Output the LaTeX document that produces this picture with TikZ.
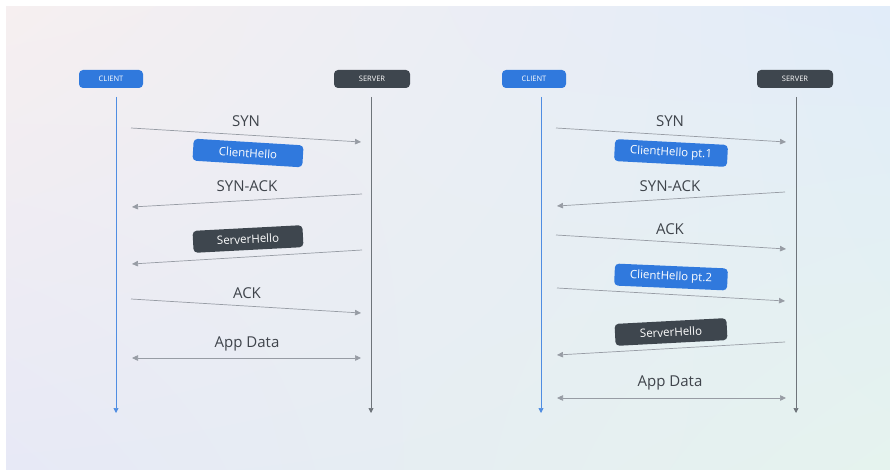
\documentclass[tikz,border=0pt]{standalone}
\usepackage{fontspec}
\setmainfont{Open Sans}
\usetikzlibrary{arrows.meta,shadings}
\definecolor{cblue}{HTML}{3079DD}
\definecolor{sdark}{HTML}{3E464E}
\definecolor{msg}{HTML}{979CA4}
\definecolor{txt}{HTML}{3F444B}
\definecolor{bgul}{HTML}{F6EFF0}
\definecolor{bgur}{HTML}{E1ECF9}
\definecolor{bgll}{HTML}{E7E9F6}
\definecolor{bglr}{HTML}{E5F3EE}
\tikzset{
  head/.style={rounded corners=4pt, minimum width=64pt, minimum height=18pt, inner sep=0pt,
    text=white, font=\fontsize{7.5}{8}\selectfont},
  chead/.style={head, fill=cblue},
  shead/.style={head, fill=sdark, minimum width=76pt},
  pill/.style={rounded corners=4pt, minimum width=110pt, minimum height=22pt, inner sep=0pt,
    text=white, font=\fontsize{11.5}{13}\selectfont},
  cpill/.style={pill, fill=cblue},
  spill/.style={pill, fill=sdark},
  lbl/.style={text=txt, font=\fontsize{15}{17}\selectfont},
  msgline/.style={draw=msg, line width=0.7pt, -{Triangle[length=6pt,width=5.5pt]}},
  bimsg/.style={draw=msg, line width=0.7pt, {Triangle[length=6pt,width=5.5pt]}-{Triangle[length=6pt,width=5.5pt]}},
  clife/.style={draw=cblue!85, line width=0.7pt, -{Triangle[length=5pt,width=5pt]}},
  slife/.style={draw=sdark!75, line width=0.7pt, -{Triangle[length=5pt,width=5pt]}},
}
\begin{document}
\begin{tikzpicture}[x=1pt,y=-1pt]
\useasboundingbox (0,0) rectangle (890,470);
\fill[white] (0,0) rectangle (890,470);
\shade[upper left=bgul, upper right=bgur, lower left=bgll, lower right=bglr]
  (6,7) rectangle (890,470);

% ---------- left diagram ----------
\node[chead] (c1) at (111,79) {CLIENT};
\node[shead] (s1) at (372,79) {SERVER};
\coordinate (c1top) at (116,97); \coordinate (c1bot) at (116,413);
\coordinate (s1top) at (371,97); \coordinate (s1bot) at (371,413);
\draw[clife] (c1top) -- (c1bot);
\draw[slife] (s1top) -- (s1bot);

\node[lbl] (l1syn) at (246,121) {SYN};
\coordinate (a1s) at (131,128); \coordinate (a1e) at (361,142);
\draw[msgline] (a1s) -- (a1e);
\node[cpill, rotate=-3.5] (l1ch) at (248,153) {ClientHello};

\node[lbl] (l1sa) at (247,186) {SYN-ACK};
\coordinate (a2s) at (362,194); \coordinate (a2e) at (132,207);
\draw[msgline] (a2s) -- (a2e);
\node[spill, rotate=3] (l1sh) at (248,239) {ServerHello};
\coordinate (a3s) at (362,250); \coordinate (a3e) at (132,264);
\draw[msgline] (a3s) -- (a3e);

\node[lbl] (l1ack) at (247,293) {ACK};
\coordinate (a4s) at (131,299); \coordinate (a4e) at (361,313);
\draw[msgline] (a4s) -- (a4e);

\node[lbl] (l1app) at (247,344) {App Data};
\coordinate (a5s) at (132,358); \coordinate (a5e) at (361,358);
\draw[bimsg] (a5s) -- (a5e);

% ---------- right diagram ----------
\node[chead] (c2) at (534,79) {CLIENT};
\node[shead] (s2) at (795,79) {SERVER};
\coordinate (c2top) at (541,97); \coordinate (c2bot) at (541,413);
\coordinate (s2top) at (796,97); \coordinate (s2bot) at (796,413);
\draw[clife] (c2top) -- (c2bot);
\draw[slife] (s2top) -- (s2bot);

\node[lbl] (l2syn) at (670,121) {SYN};
\coordinate (b1s) at (556,128); \coordinate (b1e) at (786,142);
\draw[msgline] (b1s) -- (b1e);
\node[cpill, minimum width=113pt, rotate=-3] (l2ch1) at (671,153) {ClientHello pt.1};

\node[lbl] (l2sa) at (670,186) {SYN-ACK};
\coordinate (b2s) at (785,192); \coordinate (b2e) at (557,206);
\draw[msgline] (b2s) -- (b2e);

\node[lbl] (l2ack) at (670,229) {ACK};
\coordinate (b3s) at (556,235); \coordinate (b3e) at (786,249);
\draw[msgline] (b3s) -- (b3e);

\node[cpill, minimum width=113pt, rotate=-2.5] (l2ch2) at (671,277) {ClientHello pt.2};
\coordinate (b4s) at (557,288); \coordinate (b4e) at (785,301);
\draw[msgline] (b4s) -- (b4e);

\node[spill, minimum width=112pt, rotate=3] (l2sh) at (671,332) {ServerHello};
\coordinate (b5s) at (785,342); \coordinate (b5e) at (557,355);
\draw[msgline] (b5s) -- (b5e);

\node[lbl] (l2app) at (670,383) {App Data};
\coordinate (b6s) at (557,398); \coordinate (b6e) at (786,398);
\draw[bimsg] (b6s) -- (b6e);
\end{tikzpicture}
\end{document}
